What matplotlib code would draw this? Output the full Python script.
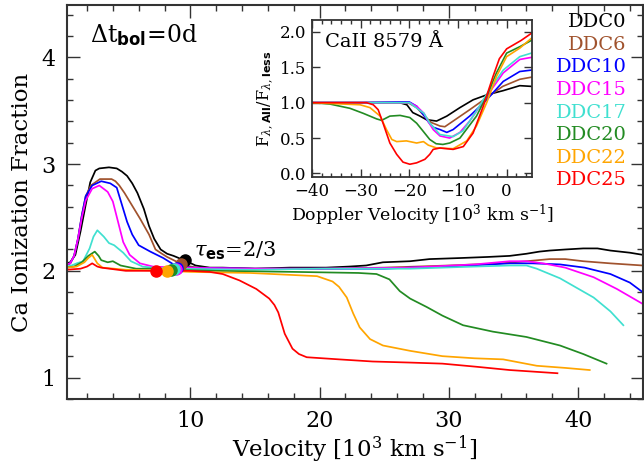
import numpy as np
import matplotlib
matplotlib.use('Agg')
import matplotlib.pyplot as plt
from matplotlib.ticker import MultipleLocator

plt.rcParams['font.family'] = ['DejaVu Serif']
plt.rcParams['mathtext.fontset'] = 'custom'
plt.rcParams['mathtext.rm'] = 'DejaVu Serif'
plt.rcParams['mathtext.it'] = 'DejaVu Serif:italic'
plt.rcParams['mathtext.bf'] = 'DejaVu Sans:bold'

names = ['DDC0', 'DDC6', 'DDC10', 'DDC15', 'DDC17', 'DDC20', 'DDC22', 'DDC25']
colors = ['black', '#A0522D', 'blue', 'magenta', '#40E0D0', '#228B22', '#FFA500', 'red']

# Ca ionization fraction vs velocity [10^3 km/s]
v_ddc0 = [0.4, 0.7, 1.1, 1.5, 1.9, 2.25, 2.65, 2.95, 3.7, 4.3, 4.7, 5.1, 5.5, 5.9, 6.4, 6.8, 7.2,
          7.7, 8.2, 8.7, 9.7, 10.4, 11.5, 12.5, 15, 17.7, 20.5, 22.3, 23.6, 24.9, 27.0, 28.5,
          30.9, 33.0, 34.7, 36.0, 37.0, 37.8, 39.0, 40.4, 41.5, 42.5, 44.0, 45.0]
f_ddc0 = [2.07, 2.08, 2.15, 2.37, 2.62, 2.83, 2.94, 2.96, 2.97, 2.96, 2.93, 2.89, 2.82, 2.73, 2.58,
          2.42, 2.30, 2.20, 2.16, 2.14, 2.09, 2.05, 2.03, 2.03, 2.02, 2.03, 2.03, 2.04, 2.05, 2.08,
          2.09, 2.11, 2.12, 2.13, 2.14, 2.16, 2.18, 2.19, 2.20, 2.21, 2.21, 2.19, 2.17, 2.15]
v_ddc6 = [0.4, 0.7, 1.0, 1.3, 1.6, 1.9, 2.3, 3.0, 3.9, 4.2, 4.5, 4.9, 5.3, 6.1, 6.8, 7.3, 7.8, 8.2,
          9.2, 9.6, 10.5, 15, 20, 25, 30, 34, 36, 37.8, 39, 40.4, 42.5, 45]
f_ddc6 = [2.06, 2.07, 2.14, 2.3, 2.52, 2.7, 2.8, 2.86, 2.86, 2.84, 2.80, 2.73, 2.65, 2.49, 2.34, 2.2,
          2.16, 2.13, 2.07, 2.05, 2.03, 2.02, 2.02, 2.03, 2.05, 2.07, 2.09, 2.11, 2.11, 2.09, 2.07, 2.05]
v_ddc10 = [0.4, 0.7, 1.0, 1.3, 1.6, 1.9, 2.4, 3.1, 3.8, 4.3, 4.7, 5.1, 5.5, 6.0, 6.9, 7.9, 8.7,
           9.0, 10, 15, 20, 25, 27, 30, 34.7, 36.5, 38.6, 40.5, 42.5, 44, 45]
f_ddc10 = [2.06, 2.07, 2.14, 2.3, 2.52, 2.7, 2.8, 2.84, 2.82, 2.78, 2.62, 2.46, 2.34, 2.24, 2.18,
           2.12, 2.06, 2.05, 2.03, 2.02, 2.02, 2.02, 2.03, 2.04, 2.07, 2.07, 2.06, 2.03, 1.97,
           1.89, 1.80]
v_ddc15 = [0.4, 0.7, 1.0, 1.3, 1.6, 1.9, 2.4, 2.95, 3.6, 4.0, 4.4, 4.8, 5.3, 6.1, 7.1, 9.0, 15,
           20, 27, 32, 34.7, 36, 37.3, 39, 41.2, 43, 45]
f_ddc15 = [2.06, 2.07, 2.14, 2.3, 2.5, 2.66, 2.77, 2.80, 2.74, 2.65, 2.46, 2.27, 2.15, 2.07, 2.04,
           2.03, 2.02, 2.02, 2.03, 2.06, 2.09, 2.09, 2.07, 2.03, 1.94, 1.83, 1.69]
v_ddc17 = [0.4, 0.8, 1.2, 1.7, 2.2, 2.5, 2.8, 3.3, 3.7, 4.1, 4.8, 5.4, 6.3, 7.1, 8.7, 15, 20, 27,
           32, 34.7, 36.0, 36.8, 38.6, 41.2, 42.5, 43.5]
f_ddc17 = [2.04, 2.05, 2.07, 2.09, 2.21, 2.32, 2.38, 2.32, 2.26, 2.24, 2.17, 2.09, 2.04, 2.03, 2.02,
           2.01, 2.02, 2.02, 2.04, 2.05, 2.05, 2.02, 1.93, 1.75, 1.62, 1.49]
v_ddc20 = [0.4, 1.0, 1.6, 2.1, 2.6, 2.9, 3.1, 3.6, 4.0, 4.6, 5.8, 7, 8.5, 12, 18, 23, 24.4, 25.4,
           26.2, 27, 28.3, 29.5, 31.1, 33.4, 36.0, 38.6, 40.4, 42.2]
f_ddc20 = [2.03, 2.04, 2.08, 2.14, 2.18, 2.14, 2.10, 2.08, 2.09, 2.05, 2.02, 2.02, 2.01, 2.00, 1.99,
           1.98, 1.97, 1.92, 1.81, 1.74, 1.66, 1.58, 1.49, 1.43, 1.38, 1.30, 1.22, 1.13]
v_ddc22 = [0.4, 1.2, 1.8, 2.1, 2.4, 2.6, 2.8, 3.2, 5, 8.2, 10, 14.6, 19.8, 21.0, 21.5, 22.1, 22.6,
           23.1, 23.9, 24.9, 27, 29.5, 32, 34.2, 36.8, 39, 40.9]
f_ddc22 = [2.03, 2.04, 2.08, 2.12, 2.15, 2.11, 2.07, 2.03, 2.01, 2.0, 1.99, 1.98, 1.95, 1.90, 1.85,
           1.75, 1.60, 1.47, 1.36, 1.30, 1.25, 1.20, 1.18, 1.17, 1.11, 1.09, 1.07]
v_ddc25 = [0.4, 1.5, 2.0, 2.4, 2.8, 3.1, 5, 7.3, 9.9, 11.5, 12.5, 13.8, 15.1, 16.1, 16.5, 16.8, 17.3,
           17.9, 18.4, 19.0, 21.5, 24.1, 27.0, 29.5, 32.2, 34.7, 38.4]
f_ddc25 = [2.01, 2.02, 2.04, 2.07, 2.04, 2.03, 2.0, 2.0, 2.0, 1.99, 1.97, 1.91, 1.83, 1.74, 1.68,
           1.61, 1.41, 1.27, 1.22, 1.19, 1.17, 1.15, 1.14, 1.13, 1.10, 1.07, 1.04]

# location of tau_es = 2/3 for each model
tau_v = [9.6, 9.3, 9.0, 8.9, 8.7, 8.5, 8.2, 7.3]
tau_f = [2.10, 2.06, 2.03, 2.02, 2.02, 2.01, 2.0, 2.0]

# CaII 8579 flux ratio vs Doppler velocity
d_ddc0 = [-40, -30, -22, -20.5, -19.3, -17.8, -16.5, -14.4, -12.3, -9.6, -6.9, -4.1, -0.7, 2.7, 5.1]
r_ddc0 = [1.0, 1.0, 1.0, 0.97, 0.86, 0.81, 0.76, 0.74, 0.81, 0.93, 1.04, 1.11, 1.17, 1.24, 1.23]
d_ddc6 = [-40, -30, -22, -20, -18.5, -17, -15.5, -13.7, -12.7, -11, -7.6, -4.1, -0.8, 2.7, 5.1]
r_ddc6 = [1.0, 1.0, 1.0, 0.99, 0.93, 0.82, 0.72, 0.67, 0.66, 0.74, 0.90, 1.07, 1.23, 1.33, 1.36]
d_ddc10 = [-40, -30, -22, -20, -18.5, -17, -16, -15, -13.7, -12.3, -11, -7.6, -4.1, -0.7, 2.7, 5.1]
r_ddc10 = [1.0, 1.0, 1.01, 1.01, 0.95, 0.82, 0.72, 0.65, 0.62, 0.58, 0.62, 0.81, 1.04, 1.30, 1.44, 1.46]
d_ddc15 = [-40, -30, -22, -20, -18.5, -17, -16, -15.1, -13.7, -11.7, -9.6, -7.6, -4.1, -0.7, 2.7, 5.1]
r_ddc15 = [1.0, 1.0, 1.0, 1.0, 0.95, 0.85, 0.72, 0.62, 0.53, 0.50, 0.58, 0.74, 1.09, 1.42, 1.61, 1.64]
d_ddc17 = [-40, -30, -22, -20, -18, -17, -15.8, -13.7, -11, -9, -6.5, -4.1, -0.7, 2.7, 5.1]
r_ddc17 = [1.0, 1.0, 1.0, 1.0, 0.9, 0.85, 0.71, 0.55, 0.52, 0.60, 0.85, 1.12, 1.46, 1.65, 1.70]
d_ddc20 = [-40, -36.3, -32.2, -29.5, -26.7, -25.7, -24, -21.9, -19.9, -18.5, -17.2, -15.8, -14.5,
           -13.1, -11.7, -9.6, -6.2, -4.1, -2.1, 0, 2.7, 5.1]
r_ddc20 = [1.0, 0.98, 0.92, 0.85, 0.77, 0.75, 0.81, 0.82, 0.79, 0.71, 0.60, 0.48, 0.42, 0.41, 0.43,
           0.50, 0.81, 1.09, 1.42, 1.70, 1.79, 1.88]
d_ddc22 = [-40, -30.1, -28.1, -26, -24.7, -23.6, -22.6, -20.6, -18.5, -17.1, -16.1, -14.4, -11, -8.2,
           -6.2, -4.1, -2.1, 0, 2.7, 5.1]
r_ddc22 = [1.0, 0.97, 0.93, 0.81, 0.62, 0.48, 0.45, 0.46, 0.43, 0.45, 0.40, 0.36, 0.35, 0.46, 0.67,
           1.0, 1.37, 1.65, 1.77, 1.91]
d_ddc25 = [-40, -28.8, -27.4, -26.4, -25.4, -24, -22.6, -21.3, -19.9, -18.5, -16.8, -15.8, -15.1,
           -13.7, -11, -8.9, -6.9, -4.8, -2.8, -1.5, 0, 1.5, 3, 5.1]
r_ddc25 = [1.0, 1.0, 0.97, 0.90, 0.71, 0.43, 0.27, 0.16, 0.13, 0.15, 0.20, 0.27, 0.34, 0.36, 0.34,
           0.38, 0.57, 0.95, 1.37, 1.62, 1.76, 1.82, 1.88, 1.98]

vel = [v_ddc0, v_ddc6, v_ddc10, v_ddc15, v_ddc17, v_ddc20, v_ddc22, v_ddc25]
frac = [f_ddc0, f_ddc6, f_ddc10, f_ddc15, f_ddc17, f_ddc20, f_ddc22, f_ddc25]
dop = [d_ddc0, d_ddc6, d_ddc10, d_ddc15, d_ddc17, d_ddc20, d_ddc22, d_ddc25]
ratio = [r_ddc0, r_ddc6, r_ddc10, r_ddc15, r_ddc17, r_ddc20, r_ddc22, r_ddc25]


def style_axes(ax, lw, major, minor):
    for s in ax.spines.values():
        s.set_linewidth(lw)
        s.set_color('#333333')
    ax.tick_params(which='both', direction='in', top=True, right=True, width=1.0, color='#333333')
    ax.tick_params(which='major', length=major)
    ax.tick_params(which='minor', length=minor)


fig = plt.figure(figsize=(6.44, 4.72), dpi=100)
ax = fig.add_axes([0.104, 0.155, 0.894, 0.834])

for i in range(len(names)):
    ax.plot(vel[i], frac[i], color=colors[i], lw=1.25)
for i in range(len(names)):
    ax.plot(tau_v[i], tau_f[i], 'o', color=colors[i], ms=8, zorder=5)

ax.set_xlim(0.45, 45)
ax.set_ylim(0.8, 4.49)
ax.xaxis.set_major_locator(MultipleLocator(10))
ax.xaxis.set_minor_locator(MultipleLocator(2))
ax.yaxis.set_major_locator(MultipleLocator(1))
ax.yaxis.set_minor_locator(MultipleLocator(0.2))
style_axes(ax, 1.5, 9, 4.5)
ax.tick_params(labelsize=16, pad=8)
ax.set_xlabel(r'Velocity [10$^3$ km s$^{-1}$]', fontsize=16.5, labelpad=1)
ax.set_ylabel('Ca Ionization Fraction', fontsize=16.5, labelpad=6)

ax.text(0.04, 0.925, r'$\Delta$t$_\mathbf{bol}$=0d', transform=ax.transAxes,
        fontsize=17, va='center', ha='left')
ax.text(10.3, 2.19, r'$\tau_\mathbf{es}$=2/3', fontsize=15, va='center', ha='left')

for i, name in enumerate(names):
    ax.text(0.972, 0.957 - i * 0.0574, name, color=colors[i], transform=ax.transAxes,
            fontsize=14, ha='right', va='center')

# inset: line profile ratio
ins = fig.add_axes([0.4845, 0.625, 0.3415, 0.333])
for i in range(len(names)):
    ins.plot(dop[i], ratio[i], color=colors[i], lw=1.2)
ins.set_xlim(-40, 5.2)
ins.set_ylim(-0.05, 2.17)
ins.xaxis.set_major_locator(MultipleLocator(10))
ins.xaxis.set_minor_locator(MultipleLocator(2))
ins.set_yticks([0.0, 0.5, 1.0, 1.5, 2.0])
ins.set_yticklabels(['0.0', '0.5', '1.0', '1.5', '2.0'])
style_axes(ins, 1.3, 6, 3)
ins.tick_params(labelsize=12, pad=4)
ins.set_xlabel(r'Doppler Velocity [10$^3$ km s$^{-1}$]', fontsize=12.5, labelpad=2)
ins.set_ylabel(r'F$_{\lambda,\mathbf{All}}$/F$_{\lambda,\mathbf{less}}$', fontsize=11.5, labelpad=3)
ins.text(0.06, 0.86, 'CaII 8579 Å', transform=ins.transAxes, fontsize=14, ha='left', va='center')

fig.savefig('out.png', dpi=100)
